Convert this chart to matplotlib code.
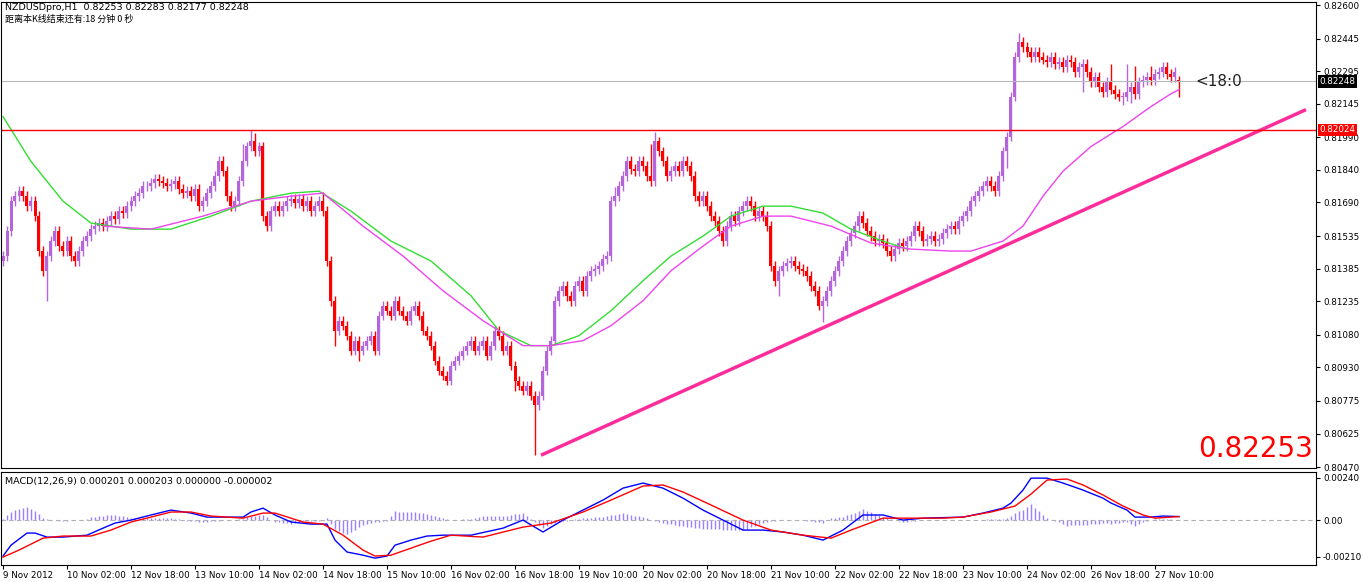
import matplotlib
matplotlib.use("Agg")
import matplotlib.pyplot as plt
import numpy as np

plt.rcParams['font.family'] = ['DejaVu Sans', 'Noto Sans CJK SC']

BASE = 0.80
UNIT = 1e-5
# hourly closes, in 1e-5 units above 0.80000
closes = [1443,1558,1696,1719,1742,1719,1673,1696,1627,1466,
          1375,1443,1512,1558,1489,1466,1512,1443,1420,1466,
          1512,1535,1567,1581,1595,1581,1604,1627,1613,1650,
          1641,1673,1696,1719,1733,1765,1765,1779,1797,1788,
          1779,1765,1774,1788,1751,1733,1742,1719,1751,1673,
          1696,1733,1765,1811,1880,1834,1719,1673,1696,1788,
          1880,1948,1971,1925,1948,1627,1581,1650,1673,1650,
          1673,1696,1705,1687,1705,1673,1696,1650,1673,1696,
          1650,1420,1237,1099,1145,1122,1076,1007,1053,1007,
          1030,1053,1076,1007,1168,1214,1191,1168,1237,1191,
          1168,1145,1191,1214,1168,1099,1076,1030,961,915,
          892,869,938,961,984,1007,1030,1053,1007,1030,
          1053,984,1030,1099,1076,1007,1030,938,869,846,
          823,846,800,755,800,915,1007,1053,1237,1283,
          1306,1260,1237,1306,1329,1283,1352,1375,1384,1397,
          1430,1443,1696,1719,1765,1811,1880,1843,1834,1880,
          1857,1811,1788,1971,1925,1880,1811,1834,1857,1834,
          1880,1857,1811,1719,1696,1719,1673,1627,1604,1558,
          1512,1581,1627,1604,1650,1673,1696,1673,1627,1650,
          1627,1581,1397,1329,1375,1397,1411,1420,1397,1384,
          1375,1352,1306,1283,1214,1237,1283,1329,1375,1420,
          1466,1512,1549,1581,1627,1595,1558,1535,1512,1521,
          1503,1466,1443,1475,1503,1489,1512,1535,1581,1558,
          1512,1521,1535,1512,1521,1549,1567,1581,1567,1604,
          1627,1650,1696,1719,1742,1765,1788,1765,1742,1811,
          1925,1994,2178,2361,2430,2407,2384,2361,2384,2361,
          2348,2338,2361,2329,2338,2315,2348,2338,2292,2315,
          2329,2292,2246,2269,2223,2200,2246,2210,2191,2178,
          2178,2200,2223,2191,2246,2255,2269,2255,2283,2292,
          2315,2283,2269,2292,2248]
first_open = 1420
last_open = 2253
default_wick = 22
special_highs = {55: 1900, 60: 1960, 62: 2026, 63: 2010, 80: 1740, 153: 1760, 162: 1960, 163: 2017,
                 254: 2470, 255: 2450, 277: 2330, 281: 2330, 283: 2320, 287: 2320, 291: 2310}
special_lows = {11: 1237, 83: 1030, 89: 960, 128: 820, 133: 525, 194: 1260, 205: 1140,
                251: 1850, 270: 2200, 280: 2140, 282: 2150, 294: 2177}

# moving averages (sample index, value in 1e-5 units)
green_idx = [0,7,15,22,32,42,52,62,72,79,87,97,107,117,124,132,137,144,152,160,167,175,182,190,197,205,212,220,226]
green_val = [2086,1879,1696,1595,1567,1567,1627,1696,1733,1742,1650,1512,1420,1260,1099,1030,1030,1076,1191,1329,1443,1535,1627,1673,1673,1641,1567,1512,1475]
mag_idx = [25,37,50,62,72,80,90,100,110,120,130,137,145,152,160,167,175,182,190,197,207,217,227,237,242,250,255,260,265,272,280,287,292,294]
mag_val = [1581,1567,1627,1696,1719,1733,1581,1443,1283,1145,1030,1030,1053,1122,1237,1375,1489,1581,1627,1627,1581,1503,1475,1466,1466,1512,1581,1719,1834,1948,2040,2132,2191,2210]

# trendline endpoints
trend_idx = [134.5, 325.75]
trend_val = [0.80525, 0.82118]
resistance = 0.82024
bid = 0.82248

# MACD lines (index, value in 1e-5)
blue_idx = [0,2,6,8,11,15,21,25,28,32,37,42,47,51,56,60,62,65,68,72,77,81,83,86,90,93,96,98,102,106,110,117,125,130,135,140,145,150,155,160,165,170,175,180,185,190,195,200,205,210,215,220,225,230,240,245,250,252,255,257,261,265,270,275,277,281,283,287,290,294]
blue_val = [-205,-143,-74,-74,-97,-97,-86,-46,-17,0,29,57,40,17,17,17,46,68,29,-11,-23,-23,-114,-182,-200,-217,-205,-143,-114,-91,-86,-86,-46,0,-68,0,57,114,182,211,182,125,57,0,-57,-57,-68,-86,-114,-57,29,29,0,11,17,40,68,97,171,239,239,211,171,125,97,57,17,17,23,20]
red_idx = [0,4,10,15,22,27,32,37,42,47,52,60,65,68,75,80,85,90,93,97,102,107,112,120,130,137,145,152,160,165,170,177,185,192,200,207,212,220,225,235,240,247,253,257,261,266,270,275,280,285,288,294]
red_val = [-211,-171,-103,-91,-91,-57,-11,17,46,46,23,11,40,40,-11,-23,-86,-171,-205,-200,-160,-120,-86,-97,-40,-17,46,114,194,200,160,86,0,-57,-86,-103,-57,11,11,11,17,46,80,148,228,234,200,143,80,29,11,20]

date_labels = ["9 Nov 2012","10 Nov 02:00","12 Nov 18:00","13 Nov 10:00","14 Nov 02:00","14 Nov 18:00",
               "15 Nov 10:00","16 Nov 02:00","16 Nov 18:00","19 Nov 10:00","20 Nov 02:00","20 Nov 18:00",
               "21 Nov 10:00","22 Nov 02:00","22 Nov 18:00","23 Nov 10:00","24 Nov 02:00","26 Nov 18:00","27 Nov 10:00"]
price_ticks = [0.82600,0.82445,0.82295,0.82145,0.81990,0.81840,0.81690,0.81535,0.81385,0.81235,0.81080,0.80930,0.80775,0.80625,0.80470]

UP = '#b464dc'
DN = '#ff0000'
FS = 6.3

fig = plt.figure(figsize=(13.63, 5.82), dpi=100)
W, H = 1363, 582
ax = fig.add_axes([1/W, 1-468/H, 1315/W, 466/H])
mx = fig.add_axes([1/W, 1-565/H, 1315/W, 93/H])

n = len(closes)
c = np.array(closes) * UNIT + BASE
o = np.empty(n)
o[0] = first_open * UNIT + BASE
o[1:] = c[:-1]
o[-1] = last_open * UNIT + BASE
hi = np.maximum(o, c) + default_wick * UNIT
lo = np.minimum(o, c) - default_wick * UNIT
for k, v in special_highs.items():
    hi[k] = max(hi[k], v * UNIT + BASE)
for k, v in special_lows.items():
    lo[k] = min(lo[k], v * UNIT + BASE)
x = np.arange(n)
for i in range(n):
    col = UP if c[i] >= o[i] else DN
    ax.vlines(x[i], lo[i], hi[i], color=col, lw=1)
    b0, b1 = sorted([o[i], c[i]])
    ax.bar(x[i], max(b1 - b0, 0.00002), bottom=b0, width=0.75, color=col, lw=0)

ax.plot(green_idx, np.array(green_val) * UNIT + BASE, color='#33dd33', lw=1)
ax.plot(mag_idx, np.array(mag_val) * UNIT + BASE, color='#ee44ee', lw=1)
ax.plot(trend_idx, trend_val, color='#ff2d9b', lw=2.5, solid_capstyle='butt')
ax.axhline(resistance, color='#ff0000', lw=1)
ax.axhline(bid, color='#b8b8b8', lw=0.8)

xl = (-0.5, -0.5 + 1315/4)
ax.set_xlim(*xl)
ax.set_ylim(0.80466, 0.82614)
ax.yaxis.tick_right()
ax.set_yticks(price_ticks)
ax.set_yticklabels([f"{t:.5f}" for t in price_ticks])
ax.tick_params(axis='y', labelsize=FS, length=3, pad=2, direction='out')
ax.set_xticks([])
for ytag, txt, bg in [(bid, "0.82248", 'black'), (resistance, "0.82024", '#ff0000')]:
    ax.text(1.0025, ytag, txt, transform=ax.get_yaxis_transform(), fontsize=FS, color='white',
            va='center', ha='left', bbox=dict(boxstyle='square,pad=0.2', fc=bg, ec='none'), zorder=5)

ax.text(0.003, 0.997, "NZDUSDpro,H1  0.82253 0.82283 0.82177 0.82248", transform=ax.transAxes,
        fontsize=6.8, va='top', ha='left')
ax.text(0.003, 0.972, "距离本K线结束还有:18 分钟 0 秒", transform=ax.transAxes,
        fontsize=6.5, va='top', ha='left', family=['Noto Sans CJK SC', 'DejaVu Sans'])
ax.text(298, bid, "<18:0", fontsize=11, va='center', ha='left', color='#222222')
ax.text(0.9975, 0.01, "0.82253", transform=ax.transAxes, fontsize=20, color='#ff0000', ha='right', va='bottom')

# MACD
bi = np.arange(0, 295)
bl = np.interp(bi, blue_idx, blue_val) * UNIT
rd = np.interp(bi, red_idx, red_val) * UNIT
mx.vlines(bi, 0, bl - rd, color='#9a80ff', lw=1)
mx.axhline(0, color='#b0b0b0', lw=0.8, ls=(0, (4, 3)))
mx.plot(blue_idx, np.array(blue_val) * UNIT, color='#0000ff', lw=1)
mx.plot(red_idx, np.array(red_val) * UNIT, color='#ff0000', lw=1)
mx.set_xlim(*xl)
mx.set_ylim(-0.00256, 0.00274)
mx.yaxis.tick_right()
mx.set_yticks([0.0024, 0.0, -0.0021])
mx.set_yticklabels(["0.00240", "0.00", "-0.00210"])
mx.tick_params(axis='y', labelsize=FS, length=3, pad=2)
mx.set_xticks([16 * k for k in range(len(date_labels))])
mx.set_xticklabels(date_labels, ha='left')
mx.tick_params(axis='x', labelsize=FS, length=3, pad=1)
mx.text(0.003, 0.95, "MACD(12,26,9) 0.000201 0.000203 0.000000 -0.000002", transform=mx.transAxes,
        fontsize=6.8, va='top', ha='left')

fig.savefig("out.png", dpi=100)
